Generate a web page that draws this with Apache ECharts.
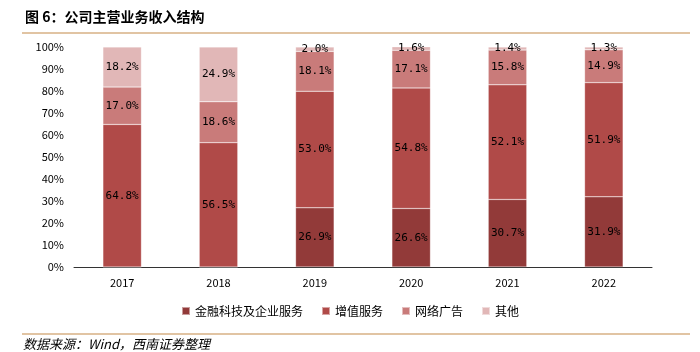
<!DOCTYPE html>
<html><head><meta charset="utf-8">
<script src="https://cdn.jsdelivr.net/npm/echarts@6/dist/echarts.min.js"></script>
<style>html,body{margin:0;padding:0;background:#fff}#c{width:700px;height:352px}</style>
</head><body><div id="c"></div>
<script>
var categories = ['2017','2018','2019','2020','2021','2022'];
var seriesNames = ['金融科技及企业服务','增值服务','网络广告','其他'];
var finTech = [0, 0, 26.9, 26.6, 30.7, 31.9];
var valueAdded = [64.8, 56.5, 53.0, 54.8, 52.1, 51.9];
var onlineAd = [17.0, 18.6, 18.1, 17.1, 15.8, 14.9];
var others = [18.2, 24.9, 2.0, 1.6, 1.4, 1.3];
var yTicks = [0,10,20,30,40,50,60,70,80,90,100];

var colors = ['#923a39','#b04a48','#c97b7a','#e1b7b7'];
var font = '"Noto Sans CJK SC", sans-serif';
var mono = '"DejaVu Sans Mono", monospace';
var chart = echarts.init(document.getElementById('c'), null, {renderer:'canvas'});
function mk(name, data, color){
  return {
    name: name, type: 'bar', stack: 'total', barWidth: '40%',
    itemStyle: {color: color, borderColor: 'rgba(255,255,255,0.5)', borderWidth: 0.5},
    label: {show: true, position: 'inside', color: '#000', fontSize: 11, fontFamily: mono,
      formatter: function(p){ return p.value > 0 ? p.value.toFixed(1) + '%' : ''; }},
    data: data
  };
}
chart.setOption({
  animation: false,
  textStyle: {fontFamily: font},
  title: {text: '图 6：公司主营业务收入结构', left: 20, top: 5,
    textStyle: {fontSize: 14, fontWeight: 'bold', color: '#000', fontFamily: font}},
  grid: {left: 74, right: 48, top: 47, bottom: 85},
  legend: {bottom: 30, left: 'center', itemWidth: 8, itemHeight: 8, itemGap: 18,
    icon: 'rect', textStyle: {fontSize: 12, color: '#000', fontFamily: font}, data: seriesNames},
  xAxis: {type: 'category', data: categories,
    axisLine: {lineStyle: {color: '#333', width: 1}}, axisTick: {show: false},
    axisLabel: {color: '#000', fontSize: 11, margin: 10}},
  yAxis: {type: 'value', min: 0, max: 100, interval: 10,
    axisLine: {show: false}, axisTick: {show: false}, splitLine: {show: false},
    axisLabel: {color: '#000', fontSize: 11, margin: 10, formatter: function(v){return v + '%';}}},
  series: [mk(seriesNames[0], finTech, colors[0]), mk(seriesNames[1], valueAdded, colors[1]),
           mk(seriesNames[2], onlineAd, colors[2]), mk(seriesNames[3], others, colors[3])],
  graphic: [
    {type: 'line', shape: {x1: 22, y1: 33, x2: 690, y2: 33}, style: {stroke: '#d7b184', lineWidth: 1.5}},
    {type: 'line', shape: {x1: 22, y1: 334, x2: 690, y2: 334}, style: {stroke: '#d7b184', lineWidth: 1.5}},
    {type: 'text', left: 23, top: 338, style: {text: '数据来源：Wind，西南证券整理', fill: '#000',
      font: 'italic 13px ' + font}}
  ]
});
</script></body></html>
